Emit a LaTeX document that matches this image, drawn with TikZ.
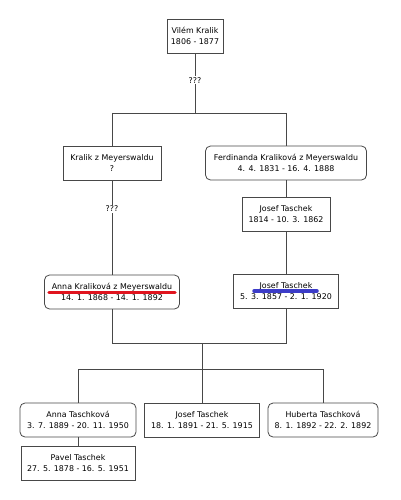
\documentclass[tikz,border=0pt]{standalone}
\usepackage{fontspec}
\setmainfont{DejaVu Sans}
\usepackage{tikz}
\usetikzlibrary{positioning, calc}
\definecolor{linegray}{HTML}{484848}
\definecolor{markred}{HTML}{E0141E}
\definecolor{markblue}{HTML}{3C3CC8}
\tikzset{
	personbox/.style={
			draw=linegray,
			line width=0.8pt,
			fill=white,
			align=center,
			minimum height=34pt,
			inner sep=1pt,
			font=\fontsize{7.9}{11.5}\selectfont
		},
	personround/.style={
			personbox,
			rounded corners=5pt
		},
	link/.style={
			draw=linegray,
			line width=0.8pt
		},
	unknown/.style={
			fill=white,
			inner sep=1pt,
			font=\fontsize{7.9}{9}\selectfont
		},
	marker/.style={
			line width=3.5pt,
			line cap=round
		}
}

\begin{document}
\begin{tikzpicture}[x=1pt, y=-1pt]
\useasboundingbox (0,0) rectangle (400,500);

% generation 1
\node[personbox, minimum width=56pt] (vilem) at (195,36) {Vilém Kralik\\1806 - 1877};

% generation 2
\node[personbox, minimum width=98pt] (kralik) at (112,163) {Kralik z Meyerswaldu\\?};
\node[personround, minimum width=161pt] (ferd) at (286,163) {Ferdinanda Kraliková z Meyerswaldu\\4. 4. 1831 - 16. 4. 1888};
\node[personbox, minimum width=88pt] (josefA) at (286,214) {Josef Taschek\\1814 - 10. 3. 1862};

% generation 3
\node[personround, minimum width=135pt] (anna) at (112,292) {Anna Kraliková z Meyerswaldu\\14. 1. 1868 - 14. 1. 1892};
\node[personbox, minimum width=105pt] (josefB) at (286,291) {Josef Taschek\\5. 3. 1857 - 2. 1. 1920};

% generation 4
\node[personround, minimum width=116pt] (annaT) at (78,420) {Anna Taschková\\3. 7. 1889 - 20. 11. 1950};
\node[personbox, minimum width=115pt] (josefC) at (202,420) {Josef Taschek\\18. 1. 1891 - 21. 5. 1915};
\node[personround, minimum width=110pt] (huberta) at (323,420) {Huberta Taschková\\8. 1. 1892 - 22. 2. 1892};
\node[personbox, minimum width=114pt] (pavel) at (78,463) {Pavel Taschek\\27. 5. 1878 - 16. 5. 1951};

% junctions
\coordinate (topmid) at (195,113);
\coordinate (topleft) at (112,113);
\coordinate (topright) at (286,113);
\coordinate (parleft) at (112,343);
\coordinate (parright) at (286,343);
\coordinate (parmid) at (202,343);
\coordinate (kidsmid) at (202,369);
\coordinate (kidsleft) at (78,369);
\coordinate (kidsright) at (323,369);

% connectors
\draw[link] (vilem.south) -- (topmid) node[unknown, pos=0.45] {???};
\draw[link] (topleft) -- (topright);
\draw[link] (topleft) -- (kralik.north);
\draw[link] (topright) -- (ferd.north);
\draw[link] (kralik.south) -- (anna.north) node[unknown, pos=0.3] {???};
\draw[link] (ferd.south) -- (josefA.north);
\draw[link] (josefA.south) -- (josefB.north);
\draw[link] (anna.south) -- (parleft) -- (parright) -- (josefB.south);
\draw[link] (parmid) -- (kidsmid);
\draw[link] (kidsleft) -- (kidsright);
\draw[link] (kidsleft) -- (annaT.north);
\draw[link] (kidsmid) -- (josefC.north);
\draw[link] (kidsright) -- (huberta.north);
\draw[link] (annaT.south) -- (pavel.north);

% highlights
\draw[marker, markred] ([xshift=-63pt, yshift=-0.5pt]anna.center) -- ([xshift=63pt, yshift=-0.5pt]anna.center);
\draw[marker, markblue] ([xshift=-32pt]josefB.center) -- ([xshift=31pt]josefB.center);
\end{tikzpicture}
\end{document}
